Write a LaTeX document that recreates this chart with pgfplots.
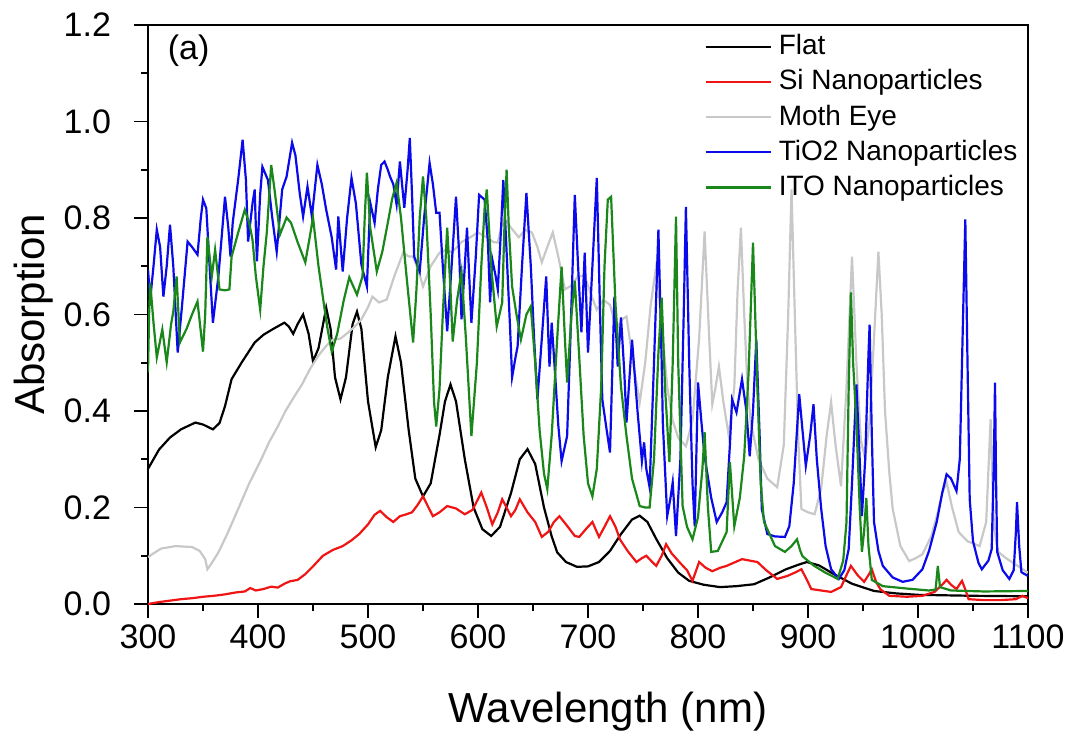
\documentclass[border=0pt]{standalone}
\usepackage{fontspec}
\setmainfont{Liberation Sans}
\usepackage{pgfplots}
\pgfplotsset{compat=1.18}
\usetikzlibrary{calc}
\definecolor{cflat}{RGB}{0,0,0}
\definecolor{csi}{RGB}{240,20,20}
\definecolor{cmoth}{RGB}{200,200,200}
\definecolor{ctio}{RGB}{10,10,235}
\definecolor{cito}{RGB}{25,135,25}
\begin{document}
\begin{tikzpicture}
\begin{axis}[
  scale only axis, width=440pt, height=289.5pt,
  xmin=300, xmax=1100, ymin=0, ymax=1.2,
  xtick={300,400,500,600,700,800,900,1000,1100},
  ytick={0,0.2,0.4,0.6,0.8,1.0,1.2},
  minor x tick num=1, minor y tick num=1,
  tick align=outside, tick pos=left,
  major tick length=7pt, minor tick length=3.5pt,
  every tick/.style={black, line width=0.9pt},
  axis line style={line width=1pt},
  /pgf/number format/assume math mode=true,
  tick label style={font=\fontsize{17}{20}\selectfont},
  xticklabel style={/pgf/number format/1000 sep={}},
  yticklabel style={/pgf/number format/fixed, /pgf/number format/precision=1, /pgf/number format/fixed zerofill, xshift=-8pt},
  scaled y ticks=false,
  xlabel={Wavelength (nm)}, ylabel={Absorption},
  every axis x label/.style={at={(rel axis cs:0.5,0)}, anchor=center, yshift=-54pt, xshift=10pt, font=\fontsize{21}{25}\selectfont},
  every axis y label/.style={at={(rel axis cs:0,0.5)}, xshift=-57pt, rotate=90, anchor=center, font=\fontsize{21}{25}\selectfont},
  no markers,
  legend style={draw=none, fill=none, at={(axis cs:802,1.197)}, anchor=north west, inner sep=2pt,
    font=\fontsize{14}{16}\selectfont, row sep=1.3pt, column sep=2.5pt,
    nodes={inner sep=1pt, text height=11pt, text depth=3.25pt}},
  legend cell align=left,
  legend image code/.code={\draw[#1] (0pt,0pt) -- (32.5pt,0pt);},
]
\addplot[cflat, line width=1.1pt] coordinates {
(300,0.28) (305,0.30) (310,0.32) (320,0.345) (330,0.362) (343,0.376) (350,0.372) (359,0.362) (365,0.375) (370,0.41) (376,0.466) (385,0.50) (397,0.542) (405,0.558) (413,0.569) (420,0.578) (424,0.583) (428,0.575) (432,0.56) (436,0.58) (441,0.60) (446,0.56) (450,0.503) (455,0.53) (462,0.614) (466,0.57) (470,0.47) (475,0.424) (480,0.47) (486,0.58) (490,0.606) (494,0.57) (500,0.42) (507,0.325) (512,0.36) (518,0.47) (525,0.555) (530,0.50) (537,0.36) (543,0.26) (550,0.223) (557,0.25) (565,0.35) (570,0.42) (575,0.455) (580,0.42) (588,0.30) (596,0.20) (604,0.155) (612,0.141) (620,0.16) (630,0.23) (638,0.30) (645,0.321) (652,0.29) (660,0.20) (667,0.14) (672,0.107) (680,0.087) (690,0.077) (700,0.078) (710,0.087) (720,0.11) (730,0.145) (740,0.175) (747,0.183) (754,0.17) (762,0.135) (772,0.095) (782,0.065) (792,0.048) (805,0.04) (820,0.035) (835,0.037) (851,0.041) (865,0.055) (880,0.072) (892,0.082) (899,0.087) (910,0.08) (925,0.06) (940,0.042) (960,0.027) (980,0.022) (1000,0.019) (1050,0.017) (1100,0.016)
};
\addlegendentry{Flat}
\addplot[csi, line width=1.1pt] coordinates {
(300,0.0) (310,0.004) (320,0.007) (330,0.01) (340,0.012) (350,0.015) (360,0.017) (370,0.02) (380,0.024) (388,0.026) (393,0.033) (398,0.028) (405,0.031) (412,0.036) (418,0.034) (424,0.042) (429,0.047) (436,0.05) (443,0.062) (450,0.078) (459,0.10) (468,0.112) (477,0.12) (485,0.132) (492,0.145) (500,0.165) (506,0.185) (511,0.193) (517,0.18) (523,0.17) (529,0.182) (535,0.186) (540,0.19) (545,0.205) (550,0.223) (555,0.20) (559,0.182) (565,0.19) (572,0.203) (580,0.198) (588,0.186) (595,0.195) (603,0.231) (608,0.20) (613,0.165) (618,0.19) (622,0.217) (626,0.20) (630,0.182) (634,0.195) (638,0.217) (645,0.19) (652,0.17) (658,0.139) (664,0.15) (669,0.17) (674,0.182) (680,0.165) (688,0.141) (692,0.139) (698,0.155) (704,0.17) (710,0.139) (715,0.16) (720,0.182) (725,0.16) (729,0.134) (736,0.11) (744,0.087) (749,0.095) (753,0.1) (758,0.088) (762,0.079) (767,0.10) (771,0.124) (776,0.105) (783,0.087) (790,0.07) (795,0.048) (801,0.087) (807,0.075) (813,0.068) (820,0.075) (826,0.079) (833,0.086) (840,0.093) (847,0.09) (854,0.087) (862,0.07) (872,0.052) (881,0.058) (888,0.065) (894,0.072) (899,0.05) (903,0.031) (912,0.028) (921,0.025) (930,0.035) (935,0.06) (939,0.079) (945,0.06) (951,0.046) (955,0.06) (958,0.072) (962,0.045) (966,0.03) (974,0.017) (990,0.015) (1004,0.017) (1015,0.025) (1022,0.04) (1026,0.05) (1030,0.04) (1035,0.031) (1040,0.048) (1043,0.03) (1046,0.01) (1060,0.008) (1075,0.008) (1089,0.01) (1095,0.017) (1100,0.012)
};
\addlegendentry{Si Nanoparticles}
\addplot[cmoth, line width=1.1pt] coordinates {
(300,0.097) (305,0.105) (312,0.115) (325,0.12) (340,0.118) (347,0.11) (352,0.093) (354,0.072) (358,0.085) (364,0.107) (372,0.145) (382,0.197) (392,0.25) (403,0.30) (410,0.335) (418,0.368) (425,0.40) (433,0.43) (440,0.455) (447,0.486) (455,0.515) (462,0.535) (468,0.548) (475,0.55) (482,0.563) (488,0.575) (494,0.59) (500,0.615) (504,0.637) (510,0.625) (517,0.631) (524,0.68) (532,0.728) (537,0.72) (541,0.72) (546,0.69) (550,0.658) (557,0.70) (565,0.728) (572,0.735) (576,0.728) (585,0.75) (593,0.76) (600,0.77) (608,0.76) (614,0.75) (618,0.749) (621,0.78) (624,0.797) (630,0.78) (637,0.76) (643,0.775) (649,0.77) (654,0.74) (658,0.708) (663,0.74) (668,0.77) (673,0.72) (679,0.652) (685,0.66) (691,0.68) (697,0.679) (703,0.64) (708,0.61) (714,0.63) (720,0.62) (726,0.57) (731,0.59) (735,0.596) (741,0.50) (747,0.418) (752,0.50) (757,0.62) (762,0.70) (767,0.58) (772,0.45) (777,0.38) (782,0.345) (789,0.327) (795,0.38) (801,0.55) (806,0.772) (810,0.56) (813,0.414) (816,0.45) (819,0.492) (823,0.42) (828,0.348) (833,0.45) (836,0.65) (839,0.78) (842,0.6) (845,0.45) (848,0.376) (855,0.30) (863,0.26) (872,0.242) (878,0.33) (882,0.6) (885,0.859) (888,0.6) (891,0.35) (894,0.197) (900,0.19) (906,0.186) (912,0.24) (917,0.35) (921,0.418) (925,0.33) (930,0.244) (935,0.45) (940,0.72) (944,0.5) (948,0.34) (952,0.30) (956,0.38) (960,0.55) (964,0.73) (967,0.6) (970,0.4) (974,0.27) (977,0.197) (984,0.12) (992,0.089) (998,0.095) (1004,0.103) (1012,0.14) (1018,0.19) (1022,0.23) (1026,0.252) (1031,0.2) (1037,0.149) (1045,0.13) (1056,0.12) (1062,0.17) (1066,0.383) (1069,0.16) (1073,0.108) (1080,0.095) (1090,0.08) (1100,0.065)
};
\addlegendentry{Moth Eye}
\addplot[ctio, line width=1.1pt] coordinates {
(300,0.693) (302,0.631) (305,0.70) (308,0.776) (311,0.74) (314,0.637) (317,0.70) (320,0.786) (323,0.70) (327,0.521) (331,0.62) (336,0.751) (340,0.74) (345,0.724) (348,0.80) (350,0.838) (353,0.82) (356,0.70) (359,0.583) (364,0.679) (370,0.844) (373,0.78) (375,0.72) (377,0.79) (382,0.88) (386,0.962) (389,0.88) (391,0.751) (395,0.83) (397,0.859) (399,0.71) (402,0.85) (404,0.906) (409,0.879) (413,0.80) (417,0.73) (422,0.859) (426,0.886) (431,0.956) (434,0.93) (438,0.85) (441,0.803) (445,0.865) (449,0.803) (454,0.91) (458,0.87) (462,0.817) (467,0.76) (471,0.693) (473,0.803) (477,0.689) (481,0.80) (485,0.883) (489,0.83) (494,0.703) (499,0.658) (502,0.832) (506,0.79) (509,0.86) (512,0.91) (515,0.917) (518,0.90) (520,0.886) (523,0.87) (526,0.828) (529,0.917) (533,0.821) (536,0.90) (538,0.966) (540,0.85) (542,0.72) (547,0.689) (551,0.80) (556,0.914) (559,0.87) (562,0.811) (565,0.811) (568,0.70) (572,0.565) (576,0.70) (580,0.844) (583,0.72) (585,0.59) (588,0.70) (590,0.78) (592,0.68) (594,0.583) (598,0.72) (601,0.848) (606,0.838) (609,0.75) (611,0.625) (613,0.714) (616,0.68) (618,0.652) (621,0.78) (623,0.879) (625,0.78) (627,0.679) (629,0.58) (631,0.47) (634,0.51) (636,0.534) (640,0.70) (644,0.852) (648,0.70) (651,0.55) (654,0.424) (658,0.55) (662,0.679) (664,0.55) (665,0.492) (667,0.583) (670,0.48) (673,0.37) (676,0.296) (681,0.348) (684,0.55) (688,0.848) (691,0.70) (694,0.563) (697,0.728) (700,0.521) (704,0.70) (708,0.883) (711,0.60) (713,0.424) (717,0.36) (720,0.314) (724,0.637) (727,0.492) (730,0.594) (733,0.48) (735,0.376) (740,0.548) (745,0.40) (749,0.296) (751,0.335) (753,0.28) (756,0.242) (760,0.50) (764,0.776) (767,0.50) (768,0.376) (772,0.182) (775,0.22) (777,0.252) (780,0.141) (784,0.30) (787,0.60) (789,0.823) (792,0.50) (795,0.25) (797,0.161) (800,0.459) (803,0.38) (806,0.306) (812,0.22) (817,0.17) (822,0.19) (826,0.211) (829,0.33) (831,0.424) (835,0.397) (840,0.466) (844,0.40) (847,0.306) (850,0.40) (853,0.548) (856,0.35) (858,0.197) (863,0.145) (870,0.14) (879,0.139) (883,0.161) (887,0.25) (892,0.435) (895,0.36) (898,0.286) (902,0.35) (905,0.414) (908,0.30) (912,0.197) (916,0.12) (921,0.072) (928,0.052) (933,0.07) (937,0.114) (940,0.25) (944,0.455) (947,0.30) (949,0.182) (952,0.30) (955,0.52) (956,0.579) (958,0.35) (960,0.17) (964,0.11) (968,0.079) (977,0.055) (986,0.046) (995,0.05) (1004,0.072) (1010,0.11) (1017,0.17) (1022,0.23) (1026,0.269) (1030,0.26) (1035,0.234) (1038,0.30) (1041,0.60) (1043,0.797) (1045,0.50) (1047,0.217) (1050,0.13) (1055,0.085) (1058,0.072) (1064,0.09) (1067,0.114) (1069,0.30) (1070,0.459) (1071,0.25) (1072,0.108) (1077,0.07) (1083,0.052) (1087,0.07) (1089,0.15) (1090,0.211) (1092,0.12) (1094,0.066) (1100,0.058)
};
\addlegendentry{TiO2 Nanoparticles}
\addplot[cito, line width=1.1pt] coordinates {
(300,0.48) (301,0.60) (302,0.666) (305,0.583) (308,0.511) (313,0.569) (317,0.501) (321,0.58) (323,0.606) (326,0.679) (329,0.542) (335,0.57) (340,0.60) (345,0.627) (350,0.523) (352,0.60) (354,0.761) (358,0.679) (361,0.734) (365,0.652) (370,0.65) (374,0.652) (376,0.72) (382,0.77) (388,0.817) (392,0.79) (395,0.755) (398,0.68) (402,0.61) (405,0.70) (408,0.77) (412,0.91) (415,0.859) (420,0.766) (426,0.801) (430,0.79) (436,0.75) (443,0.708) (447,0.76) (450,0.801) (455,0.70) (460,0.62) (463,0.573) (467,0.523) (472,0.56) (478,0.63) (483,0.677) (490,0.641) (495,0.679) (497,0.80) (499,0.894) (502,0.78) (508,0.689) (513,0.73) (518,0.79) (522,0.84) (526,0.873) (530,0.80) (535,0.68) (541,0.542) (544,0.65) (547,0.80) (550,0.886) (553,0.80) (557,0.60) (560,0.42) (562,0.368) (565,0.445) (568,0.60) (572,0.78) (575,0.65) (577,0.544) (581,0.63) (585,0.689) (589,0.55) (594,0.348) (599,0.50) (603,0.70) (606,0.82) (608,0.859) (612,0.70) (617,0.575) (622,0.625) (624,0.78) (626,0.90) (628,0.78) (631,0.658) (635,0.60) (639,0.548) (644,0.60) (648,0.617) (652,0.50) (656,0.36) (660,0.27) (663,0.238) (667,0.35) (672,0.55) (676,0.699) (679,0.55) (681,0.459) (685,0.60) (688,0.67) (692,0.513) (696,0.35) (700,0.25) (704,0.223) (708,0.28) (712,0.45) (715,0.70) (718,0.838) (721,0.844) (725,0.62) (730,0.45) (735,0.348) (740,0.26) (747,0.203) (752,0.20) (756,0.2) (760,0.30) (764,0.52) (767,0.635) (770,0.45) (774,0.294) (777,0.50) (780,0.803) (782,0.50) (786,0.203) (790,0.16) (795,0.134) (800,0.18) (804,0.28) (806,0.356) (809,0.20) (812,0.108) (818,0.11) (826,0.149) (829,0.294) (833,0.161) (838,0.22) (842,0.306) (846,0.48) (850,0.749) (852,0.60) (854,0.445) (857,0.25) (860,0.17) (870,0.12) (879,0.108) (885,0.12) (890,0.134) (893,0.11) (895,0.099) (905,0.08) (915,0.066) (927,0.052) (932,0.09) (935,0.17) (937,0.45) (939,0.646) (941,0.50) (944,0.376) (947,0.20) (949,0.108) (951,0.15) (953,0.22) (955,0.12) (958,0.05) (968,0.037) (990,0.032) (1010,0.028) (1016,0.03) (1018,0.079) (1020,0.035) (1030,0.028) (1060,0.026) (1100,0.027)
};
\addlegendentry{ITO Nanoparticles}
\node[font=\fontsize{17}{20}\selectfont] at (axis cs:337,1.146) {(a)};
\end{axis}
\pgfresetboundingbox
\path[use as bounding box] ($(current axis.south west)+(-74pt,-69pt)$) rectangle ($(current axis.north east)+(31.5pt,12.5pt)$);
\end{tikzpicture}
\end{document}
